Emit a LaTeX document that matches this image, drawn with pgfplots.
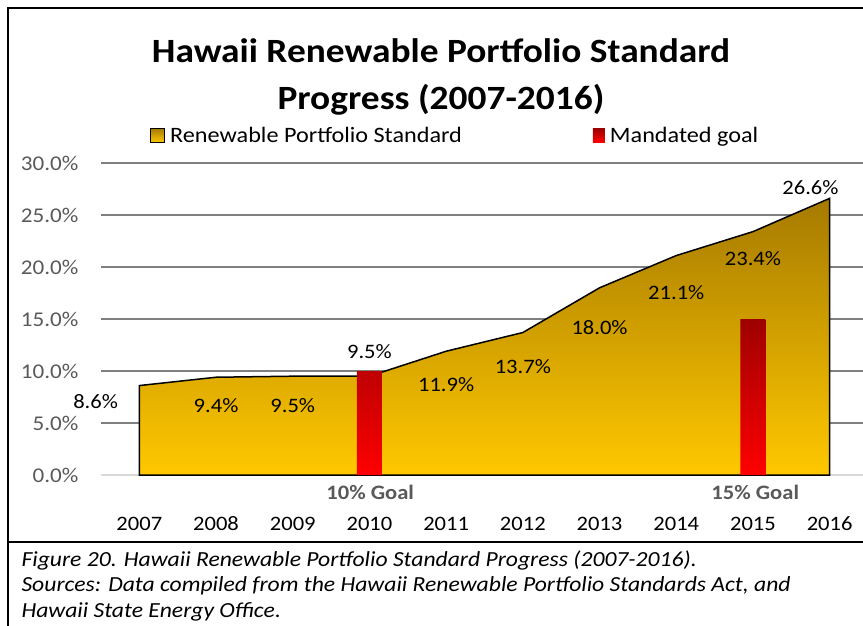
\documentclass[border=0pt]{standalone}
\usepackage{fontspec}
\setmainfont{Carlito}[FakeStretch=1.1]
\usepackage{pgfplots}
\pgfplotsset{compat=1.18}
\definecolor{goldtop}{HTML}{A67A00}
\definecolor{goldbot}{HTML}{FFC800}
\definecolor{redtop}{HTML}{9E0000}
\definecolor{redbot}{HTML}{FF0000}
\definecolor{gridc}{HTML}{7F7F7F}
\definecolor{axisc}{HTML}{D9D9D9}
\definecolor{tickc}{HTML}{595959}
\newcommand{\lbl}{\fontsize{20.5}{24}\selectfont}
\begin{document}
\begin{tikzpicture}[x=1pt,y=1pt]
\path[use as bounding box] (0,0) rectangle (863,625);
\draw[line width=2.5pt] (8,-2) -- (8,617) -- (870,617);
\draw[line width=2.5pt] (8,83) -- (870,83);
\node[anchor=base, font=\fontsize{34}{47}\selectfont\bfseries] at (441,562) {Hawaii Renewable Portfolio Standard};
\node[anchor=base, font=\fontsize{34}{47}\selectfont\bfseries] at (441,515) {Progress (2007-2016)};
\node[anchor=base west, align=left, font=\itshape\fontsize{21.5}{25.5}\selectfont] at (18,8) {Figure 20. Hawaii Renewable Portfolio Standard Progress (2007-2016).\\Sources: Data compiled from the Hawaii Renewable Portfolio Standards Act, and\\Hawaii State Energy Office.};
\begin{axis}[
  at={(101pt,150pt)}, anchor=south west,
  width=767pt, height=312pt, scale only axis,
  xmin=2006.5, xmax=2016.5, ymin=0, ymax=30,
  clip=false,
  axis line style={draw=none}, tick style={draw=none},
  ytick={5,10,15,20,25,30},
  yticklabels={5.0\%,10.0\%,15.0\%,20.0\%,25.0\%,30.0\%},
  extra y ticks={0}, extra y tick labels={0.0\%},
  extra y tick style={grid style={axisc, line width=1.5pt}},
  ymajorgrids, grid style={gridc, line width=1.5pt},
  yticklabel style={font=\fontsize{21}{24}\selectfont, text=tickc, xshift=-19pt},
  xtick={2007,2008,2009,2010,2011,2012,2013,2014,2015,2016},
  xticklabels={2007,2008,2009,2010,2011,2012,2013,2014,2015,2016},
  xticklabel style={font=\lbl, text=black, anchor=base, yshift=-55pt},
  legend columns=2,
  legend style={at={(0.0639,1.088)}, anchor=west, draw=none, fill=none, inner sep=0pt,
    font=\fontsize{22}{26}\selectfont, cells={anchor=west}, nodes={inner sep=0pt},
    /tikz/every odd column/.append style={column sep=5pt},
    /tikz/every even column/.append style={column sep=131pt}},
]
\addplot[draw=black, line width=1.5pt, top color=goldtop, bottom color=goldbot,
  legend image code/.code={\draw[black, line width=1pt, top color=goldtop, bottom color=goldbot] (0pt,-7pt) rectangle (14pt,7pt);}]
  coordinates {(2007,8.6)(2008,9.4)(2009,9.5)(2010,9.5)(2011,11.9)(2012,13.7)(2013,18.0)(2014,21.1)(2015,23.4)(2016,26.6)} \closedcycle;
\addlegendentry{Renewable Portfolio Standard}
\addplot[ybar, bar width=25pt, draw=none, top color=redtop, bottom color=redbot,
  legend image code/.code={\fill[top color=redtop, bottom color=redbot] (0pt,-7pt) rectangle (12pt,7pt);}]
  coordinates {(2010,10)(2015,15)};
\addlegendentry{Mandated goal}
\node[font=\lbl] at (axis cs:2006.43,7.02) {8.6\%};
\node[font=\lbl] at (axis cs:2008,6.63) {9.4\%};
\node[font=\lbl] at (axis cs:2009,6.63) {9.5\%};
\node[font=\lbl] at (axis cs:2010,11.83) {9.5\%};
\node[font=\lbl] at (axis cs:2011,8.65) {11.9\%};
\node[font=\lbl] at (axis cs:2012,10.38) {13.7\%};
\node[font=\lbl] at (axis cs:2013,14.13) {18.0\%};
\node[font=\lbl] at (axis cs:2014,17.5) {21.1\%};
\node[font=\lbl] at (axis cs:2015,20.77) {23.4\%};
\node[font=\lbl] at (axis cs:2015.75,27.6) {26.6\%};
\node[font=\lbl\bfseries, text=tickc, anchor=base] at (axis cs:2010.01,-2.31) {10\% Goal};
\node[font=\lbl\bfseries, text=tickc, anchor=base] at (axis cs:2015.03,-2.31) {15\% Goal};
\end{axis}
\end{tikzpicture}
\end{document}
